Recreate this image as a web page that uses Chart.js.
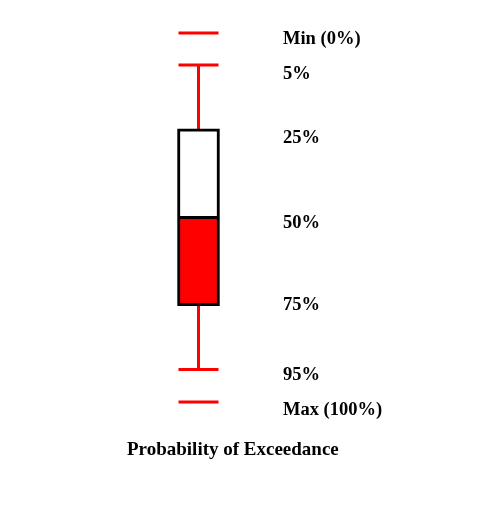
<!DOCTYPE html>
<html>
<head>
<meta charset="utf-8">
<script src="https://cdn.jsdelivr.net/npm/chart.js@4/dist/chart.umd.min.js"></script>
<style>
  html, body { margin: 0; padding: 0; background: #ffffff; }
  #wrap { width: 485px; height: 526px; }
</style>
</head>
<body>
<div id="wrap"><canvas id="c" width="485" height="526"></canvas></div>
<script>
// Schematic position (0 = Min at top, 100 = Max at bottom) of each statistic
const categories = ['box'];
const minVal = 0;
const p5 = 8.7;
const p25 = 26.0;
const p50 = 50.3;
const p75 = 73.9;
const p95 = 91.2;
const maxVal = 100;
const tickLabels = ['Min (0%)', '5%', '25%', '50%', '75%', '95%', 'Max (100%)'];
const tickLabelPos = [1.7, 11.3, 28.4, 51.6, 73.9, 92.8, 102.1];
const titleText = 'Probability of Exceedance';

const RED = '#ff0000';
const FONT = '"Liberation Serif", "Times New Roman", serif';

new Chart(document.getElementById('c'), {
  data: {
    labels: categories,
    datasets: [
      { type: 'bar', data: [[p25, p50]], backgroundColor: '#ffffff', borderColor: '#000000',
        borderWidth: 3, borderSkipped: false, barThickness: 42, grouped: false, order: 2 },
      { type: 'bar', data: [[p50, p75]], backgroundColor: RED, borderColor: '#000000',
        borderWidth: { top: 0, left: 3, right: 3, bottom: 3 }, borderSkipped: false,
        barThickness: 42, grouped: false, order: 2 },
      { type: 'line', data: [{x: 'box', y: p5}, {x: 'box', y: p25}], borderColor: RED,
        borderWidth: 3, pointRadius: 0, clip: false, order: 3 },
      { type: 'line', data: [{x: 'box', y: p75}, {x: 'box', y: p95}], borderColor: RED,
        borderWidth: 3, pointRadius: 0, clip: false, order: 3 },
      { type: 'line', data: [{x: 'box', y: minVal}, {x: 'box', y: p5}, {x: 'box', y: p95}, {x: 'box', y: maxVal}],
        showLine: false, pointStyle: 'line', pointRadius: 20, pointHoverRadius: 20,
        pointBorderWidth: 3, pointBorderColor: RED, borderColor: RED, clip: false, order: 1 }
    ]
  },
  options: {
    responsive: false,
    animation: false,
    events: [],
    layout: { autoPadding: false, padding: { left: 127, right: 0, top: 14.55, bottom: 0 } },
    plugins: {
      legend: { display: false },
      tooltip: { enabled: false },
      title: {
        display: true, position: 'bottom', align: 'start', text: titleText, color: '#000000',
        font: { family: FONT, size: 19, weight: 'bold', lineHeight: 1.2 },
        padding: { top: 18.15, bottom: 64.6 }
      }
    },
    scales: {
      x: { type: 'category', display: false, offset: true },
      y: { type: 'linear', display: false, reverse: true, min: -5, max: 105 },
      y2: {
        type: 'linear', position: 'right', reverse: true, min: -5, max: 105,
        grid: { display: false, drawTicks: false },
        border: { display: false },
        afterBuildTicks: (s) => { s.ticks = tickLabelPos.map(v => ({ value: v })); },
        afterFit: (s) => { s.width = 215; s.paddingTop = 0; s.paddingBottom = 0; },
        ticks: {
          autoSkip: false, padding: 13, color: '#000000',
          font: { family: FONT, size: 18.5, weight: 'bold' },
          callback: (v, i) => tickLabels[i]
        }
      }
    }
  }
});
</script>
</body>
</html>
